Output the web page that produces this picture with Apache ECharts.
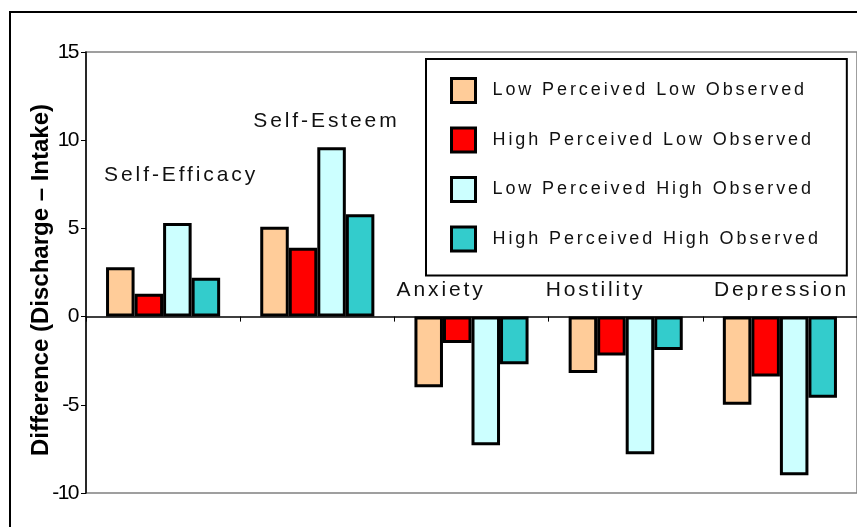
<!DOCTYPE html>
<html>
<head>
<meta charset="utf-8">
<style>
  html, body { margin: 0; padding: 0; background: #fff; }
  #chart { width: 857px; height: 527px; }
</style>
<script src="https://cdn.jsdelivr.net/npm/echarts@6/dist/echarts.min.js"></script>
</head>
<body>
<div id="chart"></div>
<script>
// Change in each score from intake to discharge, by perceived / observed group
const categories = ['Self-Efficacy', 'Self-Esteem', 'Anxiety', 'Hostility', 'Depression'];
const groupNames = [
  'Low Perceived Low Observed',
  'High Perceived Low Observed',
  'Low Perceived High Observed',
  'High Perceived High Observed'
];
const lowPercLowObs   = [2.8, 5.1, -4.0, -3.2, -5.0];
const highPercLowObs  = [1.3, 3.9, -1.5, -2.2, -3.4];
const lowPercHighObs  = [5.3, 9.6, -7.3, -7.8, -9.0];
const highPercHighObs = [2.2, 5.8, -2.7, -1.9, -4.6];
const yMin = -10, yMax = 15, yStep = 5;
const yTitle = 'Difference (Discharge \u2013 Intake)';

// Tracked (letter-spaced) lettering: the canvas letterSpacing is chosen by font family marker,
// applied both when measuring and when drawing so layout stays consistent.
(function () {
  const proto = CanvasRenderingContext2D.prototype;
  function spacingFor(font) {
    if (font.indexOf('Arial') >= 0) return '2.9px';
    if (font.indexOf('Helvetica') >= 0) return '-1.5px';
    return '0px';
  }
  ['fillText', 'strokeText', 'measureText'].forEach(function (name) {
    const orig = proto[name];
    proto[name] = function () {
      if ('letterSpacing' in this) this.letterSpacing = spacingFor(this.font);
      return orig.apply(this, arguments);
    };
  });
})();

const SPACED = '"Liberation Sans", Arial';
const TIGHT = '"Liberation Sans", Helvetica';
const PLAIN = '"Liberation Sans", sans-serif';

const colors = ['#FFCC99', '#FF0000', '#CCFFFF', '#33CCCC'];
const values = [lowPercLowObs, highPercLowObs, lowPercHighObs, highPercHighObs];

// Where each category caption sits: height in axis units, horizontal shift from the category centre
const captionPlacement = [
  { y: 8.0, dx: -59 },
  { y: 11.1, dx: -64 },
  { y: 1.5, dx: -75 },
  { y: 1.5, dx: -80 },
  { y: 1.5, dx: -66 }
];

const barSeries = groupNames.map(function (name, k) {
  return {
    name: name,
    type: 'bar',
    data: values[k],
    barGap: '0%',
    barCategoryGap: '26%',
    itemStyle: { color: colors[k], borderColor: '#000', borderWidth: 3 },
    emphasis: { disabled: true },
    silent: true
  };
});

const captionSeries = {
  type: 'scatter',
  silent: true,
  symbolSize: 0,
  z: 5,
  itemStyle: { opacity: 1 },
  data: categories.map(function (c, i) { return [i, captionPlacement[i].y]; }),
  label: {
    show: true,
    position: 'right',
    distance: 0,
    formatter: function (p) { return categories[p.dataIndex]; },
    color: '#111',
    opacity: 1,
    fontFamily: SPACED,
    fontSize: 21,
    verticalAlign: 'middle'
  },
  labelLayout: function (p) {
    return { dx: captionPlacement[p.dataIndex].dx };
  }
};

const chart = echarts.init(document.getElementById('chart'), null, { renderer: 'canvas' });
chart.setOption({
  animation: false,
  backgroundColor: '#fff',
  grid: {
    left: 86, right: 0, top: 52, bottom: 34,
    show: true, borderColor: '#808080', borderWidth: 1.5, backgroundColor: 'transparent'
  },
  legend: {
    data: groupNames,
    orient: 'vertical',
    left: 426, top: 59,
    padding: [18, 26, 23, 24],
    itemWidth: 24, itemHeight: 24, itemGap: 22.5,
    borderColor: '#000', borderWidth: 2, backgroundColor: '#fff',
    icon: 'rect',
    selectedMode: false,
    itemStyle: { borderColor: '#000', borderWidth: 3 },
    textStyle: { fontFamily: SPACED, fontSize: 18, color: '#111', padding: [0, 0, 0, 12] }
  },
  xAxis: {
    type: 'category',
    data: categories,
    axisLine: { onZero: true, lineStyle: { color: '#000', width: 1.5 } },
    axisTick: { show: true, inside: false, length: 5, lineStyle: { color: '#000', width: 1 } },
    axisLabel: { show: false },
    splitLine: { show: false }
  },
  yAxis: {
    type: 'value',
    min: yMin, max: yMax, interval: yStep,
    name: yTitle,
    nameLocation: 'middle',
    nameGap: 33,
    nameMoveOverlap: false,
    nameTextStyle: { fontFamily: PLAIN, fontWeight: 'bold', fontSize: 24, color: '#000', padding: [0, 15, 0, 0] },
    axisLine: { show: true, lineStyle: { color: '#000', width: 1.5 } },
    axisTick: { show: true, length: 5, lineStyle: { color: '#000', width: 1 } },
    axisLabel: { fontFamily: TIGHT, fontSize: 21, color: '#000', margin: 8 },
    splitLine: { show: false }
  },
  graphic: [{
    type: 'rect',
    silent: true,
    z: 100,
    shape: { x: 10, y: 12, width: 900, height: 600 },
    style: { fill: 'none', stroke: '#000', lineWidth: 2 }
  }],
  series: barSeries.concat([captionSeries])
});
</script>
</body>
</html>
